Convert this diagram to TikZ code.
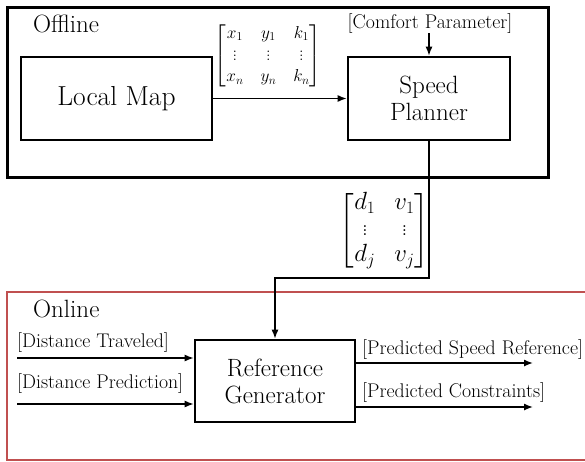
\documentclass[tikz,border=0pt]{standalone}
\usepackage{amsmath}
\usetikzlibrary{arrows.meta}
\definecolor{onred}{RGB}{192,80,80}
\begin{document}
\begin{tikzpicture}[x=1pt,y=-1pt,
  blk/.style={draw, line width=2.6pt, inner sep=0pt, align=center},
  arr/.style={-{Latex[length=9pt,width=7pt]}, line width=1.4pt},
  lbl/.style={inner sep=0pt, font=\fontsize{19.8}{22}\selectfont},
  ttl/.style={inner sep=0pt, font=\fontsize{25}{28}\selectfont},
  bigtxt/.style={font=\fontsize{25}{27}\selectfont}]
\useasboundingbox (0,0) rectangle (585,461);
\clip (0,0) rectangle (585,461);
% frames
\draw[line width=3pt] (7,7) rectangle (548,177);
\draw[onred, line width=2pt] (7,292) rectangle (600,460);
\node[ttl, anchor=base west] (offl) at (33,32) {Offline};
\node[ttl, anchor=base west] (onl) at (33,317) {Online};
% blocks
\node[blk, minimum width=191pt, minimum height=83pt, font=\fontsize{27.5}{30}\selectfont] (lm) at (116.5,98.5) {Local Map};
\node[blk, bigtxt, minimum width=162pt, minimum height=83pt] (sp) at (429,98.5) {Speed\\Planner};
\node[blk, bigtxt, minimum width=160pt, minimum height=82pt] (rg) at (275,381) {Reference\\Generator};
% matrices
\node[inner sep=0pt, font=\fontsize{18}{21.6}\selectfont] (xm) at (268,55.5)
  {\setlength{\arraycolsep}{8.5pt}$\begin{bmatrix} x_1 & y_1 & k_1\\ \vdots & \vdots & \vdots\\ x_n & y_n & k_n\end{bmatrix}$};
\node[inner sep=0pt, font=\fontsize{23}{26}\selectfont] (dm) at (384.5,230.5)
  {\setlength{\arraycolsep}{9.5pt}$\begin{bmatrix} d_1 & v_1\\ \vdots & \vdots\\ d_j & v_j\end{bmatrix}$};
% labels
\node[lbl, anchor=base] (cp) at (430,28) {[Comfort Parameter]};
\node[lbl, anchor=base west] (dtl) at (17,347) {[Distance Traveled]};
\node[lbl, anchor=base west] (dpl) at (17,388) {[Distance Prediction]};
\node[lbl, anchor=base west] (psl) at (362,354) {[Predicted Speed Reference]};
\node[lbl, anchor=base west] (pcl) at (362,397) {[Predicted Constraints]};
% connectors
\draw[arr] (lm.east) -- (sp.west);
\draw[arr] (cp.south -| sp.north) -- (sp.north);
\coordinate (b1) at (429,278);
\coordinate (b2) at (275,278);
\draw[arr] (sp.south) -- (b1) -- (b2) -- (rg.north);
\coordinate (dt) at (17,358);
\coordinate (dp) at (17,404);
\draw[arr] (dt) -- (dt -| rg.west);
\draw[arr] (dp) -- (dp -| rg.west);
\coordinate (ps) at (533,363);
\coordinate (pc) at (533,407);
\draw[arr] (ps -| rg.east) -- (ps);
\draw[arr] (pc -| rg.east) -- (pc);
\end{tikzpicture}
\end{document}
